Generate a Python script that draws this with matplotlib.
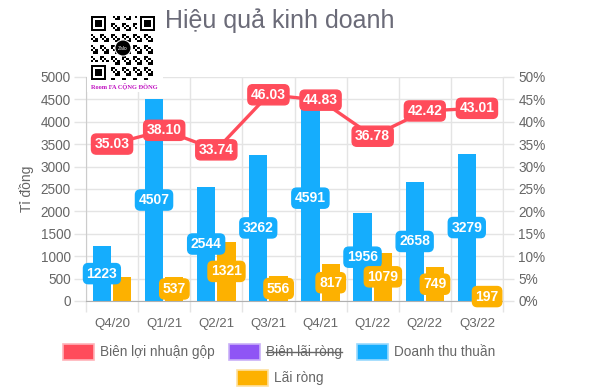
import matplotlib
matplotlib.use("Agg")
import matplotlib.pyplot as plt
from matplotlib.patches import Rectangle, Circle
import numpy as np

plt.rcParams['font.family'] = ['Liberation Sans', 'DejaVu Sans']

categories = ['Q4/20', 'Q1/21', 'Q2/21', 'Q3/21', 'Q4/21', 'Q1/22', 'Q2/22', 'Q3/22']
revenue = [1223, 4507, 2544, 3262, 4591, 1956, 2658, 3279]
net_profit = [530, 537, 1321, 556, 817, 1079, 749, 197]
net_profit_label_shown = [False, True, True, True, True, True, True, True]
gross_margin = [35.03, 38.10, 33.74, 46.03, 44.83, 36.78, 42.42, 43.01]
left_ticks = list(range(0, 5001, 500))
right_ticks = list(range(0, 51, 5))
legend_names = ['Biên lợi nhuận gộp', 'Biên lãi ròng', 'Doanh thu thuần', 'Lãi ròng']
title = 'Hiệu quả kinh doanh'
y_title = 'Tỉ đồng'

RED = '#ff4c5b'
PURPLE = '#8f55f5'
BLUE = '#15adfd'
ORANGE = '#fdb100'
GRID = '#e4e4e4'
TXT = '#666666'

W, H = 590, 391
fig = plt.figure(figsize=(W / 100, H / 100), dpi=100)


def fx(px):
    return px / W


def fy(py):
    return 1 - py / H


ax = fig.add_axes([fx(86), fy(301), fx(503) - fx(86), fy(77) - fy(301)])
ax2 = ax.twinx()

n = len(categories)
x = np.arange(n)
bw = 0.35
ax.bar(x - 0.195, revenue, bw, color=BLUE, zorder=2)
ax.bar(x + 0.195, net_profit, bw, color=ORANGE, zorder=2)
ax.set_xlim(-0.5, n - 0.5)
ax.set_ylim(0, 5000)
ax.set_yticks(left_ticks)
ax.set_yticklabels([str(v) for v in left_ticks])
ax.set_xticks(x)
ax.set_xticklabels(categories)
ax.set_xticks(np.arange(-0.5, n, 1.0), minor=True)
ax.tick_params(axis='x', which='major', length=0, pad=12, labelsize=9.5, labelcolor=TXT)
ax.tick_params(axis='x', which='minor', length=8, color=GRID, width=1)
ax.tick_params(axis='y', length=9, color=GRID, width=1, pad=2, labelsize=9.8, labelcolor=TXT)
ax.grid(axis='y', color=GRID, lw=1, zorder=0)
ax.grid(axis='x', which='minor', color=GRID, lw=1, zorder=0)
ax.set_axisbelow(True)
for s in ['top', 'right']:
    ax.spines[s].set_visible(False)
ax.spines['left'].set_color('#cccccc')
ax.spines['bottom'].set_color('#b0b0b0')
ax.set_ylabel(y_title, color=TXT, fontsize=10, labelpad=5)

ax2.set_ylim(0, 50)
ax2.set_yticks(right_ticks)
ax2.set_yticklabels([f'{v}%' for v in right_ticks])
ax2.tick_params(axis='y', length=8, color=GRID, width=1, pad=3, labelsize=9.8, labelcolor=TXT)
for s in ['top', 'left', 'bottom']:
    ax2.spines[s].set_visible(False)
ax2.spines['right'].set_color(GRID)
ax2.plot(x, gross_margin, color=RED, lw=2.4, zorder=3, solid_joinstyle='round')

lab_kw = dict(ha='center', va='center', color='white', fontsize=10, fontweight='bold', zorder=6)


def box(c):
    return dict(boxstyle='round,pad=0.22,rounding_size=0.35', fc=c, ec=c, lw=1)


for i in range(n):
    ax.text(x[i] - 0.195, revenue[i] / 2, str(revenue[i]), bbox=box(BLUE), **lab_kw)
    if net_profit_label_shown[i]:
        ax.text(x[i] + 0.195, net_profit[i] / 2, str(net_profit[i]), bbox=box(ORANGE), **lab_kw)
for i in range(n):
    ax2.text(x[i], gross_margin[i], f'{gross_margin[i]:.2f}', bbox=box(RED), **lab_kw)

# Title
fig.text(fx(165), fy(21), title, fontsize=18, color='#6b6b78', ha='left', va='center')

# QR code overlay (decorative)
fig.patches.append(Rectangle((fx(87), fy(92)), fx(163) - fx(87), fy(10) - fy(92),
                             transform=fig.transFigure, fc='white', ec='none', zorder=10))
qax = fig.add_axes([fx(91), fy(80), fx(155) - fx(91), fy(16) - fy(80)], zorder=11)
N = 29
qax.set_xlim(0, N)
qax.set_ylim(N, 0)
qax.axis('off')
grid = np.zeros((N, N), dtype=bool)
for i in range(N):
    for j in range(N):
        grid[i, j] = ((i * 7 + j * 13 + i * j) % 5) < 2


def finder(r, c):
    for i in range(-1, 8):
        for j in range(-1, 8):
            rr, cc = r + i, c + j
            if 0 <= rr < N and 0 <= cc < N:
                grid[rr, cc] = False
    for i in range(7):
        for j in range(7):
            if i in (0, 6) or j in (0, 6) or (2 <= i <= 4 and 2 <= j <= 4):
                grid[r + i, c + j] = True


finder(0, 0)
finder(0, N - 7)
finder(N - 7, 0)
qax.imshow(~grid, cmap='gray', extent=(0, N, N, 0), interpolation='nearest', vmin=0, vmax=1)
qax.add_patch(Circle((N / 2, N / 2), 3.9, fc='white', ec='none', zorder=3))
qax.add_patch(Circle((N / 2, N / 2), 3.4, fc='black', ec='none', zorder=4))
qax.text(N / 2, N / 2 + 0.1, 'Zalo', color='white', fontsize=3.5, ha='center', va='center', zorder=5)
fig.text(fx(124), fy(86), 'Room FA CỘNG ĐỒNG', color='#c010c0', fontsize=4.6,
         fontweight='bold', family='Liberation Serif', ha='center', va='center', zorder=12)

# Legend
leg_items = [
    (63, 352, RED, '#ffb3b9', legend_names[0], False),
    (229, 352, PURPLE, '#c9b0f8', legend_names[1], True),
    (357, 352, BLUE, '#9ad9fd', legend_names[2], False),
    (237, 378, ORANGE, '#fde0a0', legend_names[3], False),
]
texts = []
for px, py, c, ec, name, strike in leg_items:
    fig.patches.append(Rectangle((fx(px), fy(py + 8)), fx(31), 16 / H,
                                 transform=fig.transFigure, fc=c, ec=ec, lw=1.2))
    t = fig.text(fx(px + 37), fy(py), name, fontsize=9.8, color=TXT, ha='left', va='center')
    texts.append((t, strike))

fig.canvas.draw()
r = fig.canvas.get_renderer()
for t, strike in texts:
    if strike:
        bb = t.get_window_extent(r).transformed(fig.transFigure.inverted())
        ymid = (bb.y0 + bb.y1) / 2
        fig.add_artist(plt.Line2D([bb.x0, bb.x1], [ymid, ymid], transform=fig.transFigure,
                                  color=TXT, lw=1))

fig.savefig('out.png', dpi=100)
